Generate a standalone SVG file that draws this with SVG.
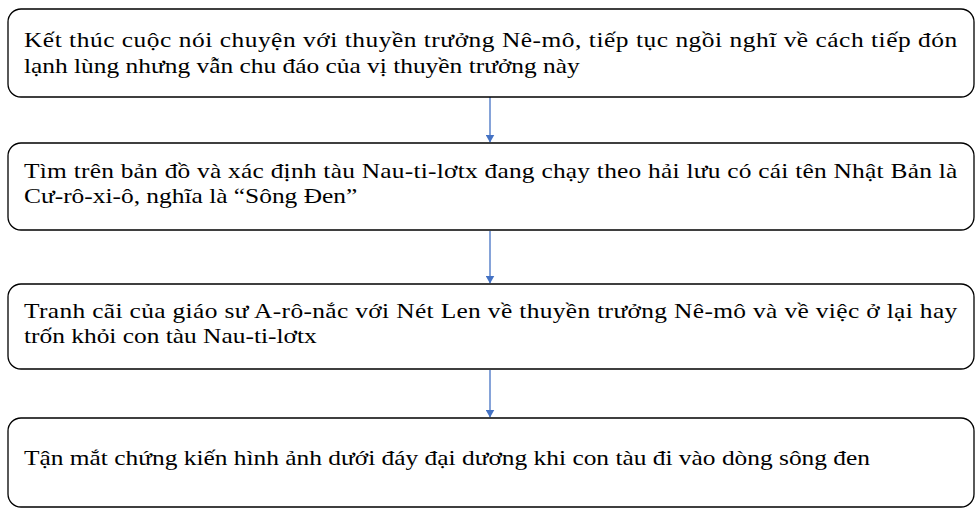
<svg xmlns="http://www.w3.org/2000/svg" width="980" height="513" viewBox="0 0 980 513">
<style>
.box{fill:#fff;stroke:#000;stroke-width:1.3}
.t{font-family:'Liberation Serif','Times New Roman',serif;font-size:22px;fill:#000}
.arr{stroke:#4472C4;stroke-width:1.3;fill:none}
</style>
<defs>
<marker id="ah" markerWidth="8" markerHeight="9" refX="7.5" refY="4.5" orient="auto" markerUnits="userSpaceOnUse">
<path d="M0,0 L8,4.5 L0,9 Z" fill="#4472C4"/>
</marker>
</defs>
<rect width="980" height="513" fill="#fff"/>
<g id="connectors">
<line class="arr" x1="490" y1="97" x2="490" y2="142" marker-end="url(#ah)"/>
<line class="arr" x1="490" y1="231" x2="490" y2="283" marker-end="url(#ah)"/>
<line class="arr" x1="490" y1="370" x2="490" y2="417" marker-end="url(#ah)"/>
</g>
<g id="node1">
<rect class="box" x="8" y="9" width="966" height="88" rx="13"/>
<g transform="translate(24,0) scale(1.155,1)">
<text class="t" x="0" y="47.5" textLength="808" lengthAdjust="spacing">Kết thúc cuộc nói chuyện với thuyền trưởng Nê-mô, tiếp tục ngồi nghĩ về cách tiếp đón</text>
<text class="t" x="0" y="73.5">lạnh lùng nhưng vẫn chu đáo của vị thuyền trưởng này</text>
</g>
</g>
<g id="node2">
<rect class="box" x="8" y="143" width="966" height="87" rx="13"/>
<g transform="translate(24,0) scale(1.155,1)">
<text class="t" x="0" y="178" textLength="808" lengthAdjust="spacing">Tìm trên bản đồ và xác định tàu Nau-ti-lơtx đang chạy theo hải lưu có cái tên Nhật Bản là</text>
<text class="t" x="0" y="203.5">Cư-rô-xi-ô, nghĩa là “Sông Đen”</text>
</g>
</g>
<g id="node3">
<rect class="box" x="8" y="284" width="966" height="85" rx="13"/>
<g transform="translate(24,0) scale(1.155,1)">
<text class="t" x="0" y="318" textLength="808" lengthAdjust="spacing">Tranh cãi của giáo sư A-rô-nắc với Nét Len về thuyền trưởng Nê-mô và về việc ở lại hay</text>
<text class="t" x="0" y="343.5">trốn khỏi con tàu Nau-ti-lơtx</text>
</g>
</g>
<g id="node4">
<rect class="box" x="8" y="418" width="966" height="89" rx="13"/>
<g transform="translate(24,0) scale(1.155,1)">
<text class="t" x="0" y="465">Tận mắt chứng kiến hình ảnh dưới đáy đại dương khi con tàu đi vào dòng sông đen</text>
</g>
</g>
</svg>
